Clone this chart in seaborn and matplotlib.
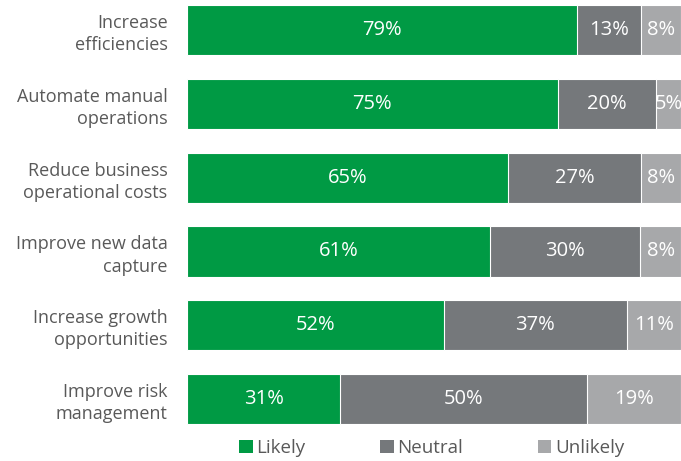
import numpy as np
import pandas as pd
import matplotlib
matplotlib.use("Agg")
import matplotlib.pyplot as plt
import seaborn as sns
from matplotlib.patches import Patch

categories = [
    "Increase\nefficiencies",
    "Automate manual\noperations",
    "Reduce business\noperational costs",
    "Improve new data\ncapture",
    "Increase growth\nopportunities",
    "Improve risk\nmanagement",
]
likely = [79, 75, 65, 61.4, 52, 31]
neutral = [13, 20, 27, 30.4, 37, 50]
unlikely = [8, 5, 8, 8.2, 11, 19]

series_names = ["Likely", "Neutral", "Unlikely"]
colors = ["#009A44", "#75787B", "#A7A8AA"]

sns.set_style("white")
plt.rcParams["font.family"] = ["Open Sans", "DejaVu Sans"]

df = pd.DataFrame({"category": categories, "Likely": likely,
                   "Neutral": neutral, "Unlikely": unlikely})
df["cum_neutral"] = df["Likely"] + df["Neutral"]
df["cum_unlikely"] = df["cum_neutral"] + df["Unlikely"]

fig = plt.figure(figsize=(6.81, 4.61), dpi=100)
ax = fig.add_axes([187 / 681, 1 - 430 / 461, 1 - 187 / 681, 430 / 461])

# stacked bars: draw cumulative totals, largest first
for col, color in zip(["cum_unlikely", "cum_neutral", "Likely"], colors[::-1]):
    sns.barplot(data=df, x=col, y="category", orient="h", color=color,
                width=0.68, edgecolor="white", linewidth=0.8, ax=ax,
                saturation=1)

starts = np.zeros(len(categories))
for vals in [likely, neutral, unlikely]:
    for i, v in enumerate(vals):
        ax.text(starts[i] + v / 2, i, f"{round(v)}%", ha="center", va="center",
                color="white", fontsize=14.5)
    starts = starts + np.array(vals)

ax.set_xlim(0, 100)
ax.set_ylim(5.42, -0.407)
ax.set_xlabel("")
ax.set_ylabel("")
ax.set_xticks([])
ax.tick_params(axis="y", length=0, pad=14, labelsize=13, labelcolor="#595959")
for lbl in ax.get_yticklabels():
    lbl.set_linespacing(1.3)
    lbl.set_va("center_baseline")
for s in ax.spines.values():
    s.set_visible(False)

handles = [Patch(facecolor=c, edgecolor="none") for c in colors]
fig.legend(handles, series_names, loc="center", bbox_to_anchor=(0.634, 1 - 448 / 461),
           ncol=3, frameon=False, fontsize=13.5, handlelength=0.7,
           handleheight=0.7, handletextpad=0.2, columnspacing=4.0,
           labelcolor="#595959")

fig.savefig("out.png", dpi=100)
plt.close(fig)
